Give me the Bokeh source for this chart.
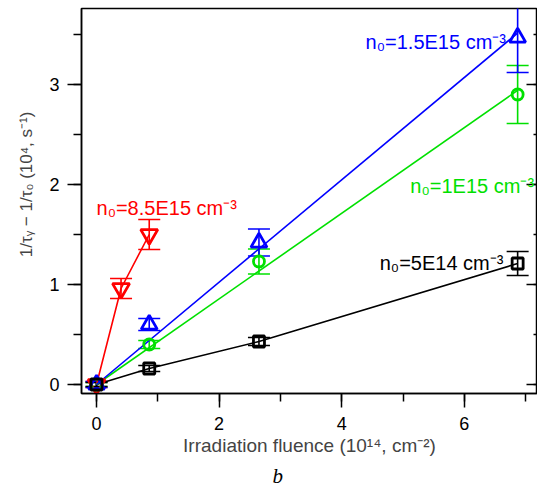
import numpy as np
from bokeh.plotting import figure
from bokeh.models import (ColumnDataSource, Whisker, TeeHead, Label, LinearAxis,
                          SingleIntervalTicker, Range1d, Title)
from bokeh.embed import file_html
from bokeh.resources import INLINE

# ---- data ----
fluence = [0.0, 0.86, 2.65, 6.87]          # 10^14 cm^-2
fluence_red = [0.0, 0.40, 0.86]

y_black = [0.0, 0.16, 0.43, 1.21]
err_black = [0.02, 0.03, 0.04, 0.12]
y_green = [0.0, 0.40, 1.23, 2.90]
err_green = [0.02, 0.04, 0.125, 0.29]
y_blue = [0.0, 0.60, 1.42, 3.47]
err_blue = [0.03, 0.06, 0.135, 0.35]
y_red = [0.0, 0.96, 1.50]
err_red = [0.03, 0.10, 0.15]

series_labels = ["n₀=5E14 cm⁻³", "n₀=1E15 cm⁻³", "n₀=1.5E15 cm⁻³", "n₀=8.5E15 cm⁻³"]
x_axis_title = "Irradiation fluence (10¹⁴, cm⁻²)"
y_axis_title = "1/τᵧ − 1/τ₀ (10⁴, s⁻¹)"
panel_letter = "b"

SANS = "Liberation Sans"
SERIF = "Liberation Serif"
BLACK, GREEN, BLUE, RED = "#000000", "#00e000", "#0000ff", "#ff0000"

X0, X1 = -0.245, 7.194
p = figure(width=537, height=491, x_range=Range1d(X0, X1), y_range=Range1d(-0.09, 3.76),
           output_backend="svg", toolbar_location=None,
           min_border_left=81, min_border_right=0, min_border_top=8, min_border_bottom=98)
p.grid.visible = False
p.outline_line_color = "black"
p.outline_line_width = 1.5
p.background_fill_color = "white"
p.border_fill_color = "white"

# axes
xax = p.xaxis[0]
xax.ticker = SingleIntervalTicker(interval=2, num_minor_ticks=2)
yax = p.yaxis[0]
yax.ticker = SingleIntervalTicker(interval=1, num_minor_ticks=2)
for ax in (xax, yax):
    ax.axis_line_width = 1.5
    ax.major_tick_line_width = 1.5
    ax.minor_tick_line_width = 1.5
    ax.major_tick_in = 0
    ax.minor_tick_in = 0
    ax.major_tick_out = 14
    ax.minor_tick_out = 8
    ax.major_label_text_font = SANS
    ax.major_label_text_font_size = "18px"
    ax.major_label_text_color = "black"
xax.major_label_standoff = 9
yax.major_label_standoff = 8
xax.axis_label = x_axis_title
xax.axis_label_text_font = SANS
xax.axis_label_text_font_size = "19px"
xax.axis_label_text_font_style = "normal"
xax.axis_label_standoff = 2

pad = "\u00a0" * 7
yax.axis_label = pad + y_axis_title
yax.axis_label_text_font = SANS
yax.axis_label_text_font_size = "17px"
yax.axis_label_text_font_style = "normal"
yax.axis_label_standoff = 10

# right-hand tick marks pointing inwards, sitting on the frame edge
rax = LinearAxis(ticker=SingleIntervalTicker(interval=1, num_minor_ticks=2),
                 fixed_location=X1,
                 major_label_overrides={0: "", 1: "", 2: "", 3: ""},
                 major_label_standoff=0,
                 axis_line_color=None, major_tick_in=11, major_tick_out=0,
                 minor_tick_in=4, minor_tick_out=0,
                 major_tick_line_width=1.5, minor_tick_line_width=1.5)
p.add_layout(rax, "right")

# panel letter below the x axis
p.add_layout(Title(text=panel_letter, text_font=SERIF, text_font_style="italic",
                   text_font_size="21px", align="left", offset=191, standoff=6,
                   text_color="black"), "below")

# fit lines (least squares through origin) for blue and green
fx = np.array(fluence)
def fit_line(ys):
    ys = np.array(ys)
    k = float(np.sum(fx * ys) / np.sum(fx * fx))
    xs = [0.0, float(fx.max())]
    return xs, [k * v for v in xs]

bx, by = fit_line(y_blue)
gx, gy = fit_line(y_green)

p.line(fluence, y_black, line_color=BLACK, line_width=1.6)
p.line(fluence_red, y_red, line_color=RED, line_width=1.6)
p.line(gx, gy, line_color=GREEN, line_width=1.6)
p.line(bx, by, line_color=BLUE, line_width=1.6)

def add_series(xs, ys, errs, color, marker, size):
    src = ColumnDataSource(dict(x=xs, y=ys,
                                lo=[a - e for a, e in zip(ys, errs)],
                                hi=[a + e for a, e in zip(ys, errs)]))
    w = Whisker(source=src, base="x", lower="lo", upper="hi", dimension="height",
                line_color=color, line_width=1.6,
                upper_head=TeeHead(size=22, line_color=color, line_width=1.6),
                lower_head=TeeHead(size=22, line_color=color, line_width=1.6))
    p.add_layout(w)
    p.scatter("x", "y", source=src, marker=marker, size=size, fill_color="white",
              fill_alpha=0.0, line_color=color, line_width=2.8)

add_series(fluence_red, y_red, err_red, RED, "inverted_triangle", 17)
add_series(fluence, y_green, err_green, GREEN, "circle", 11)
add_series(fluence, y_blue, err_blue, BLUE, "triangle", 16)
add_series(fluence, y_black, err_black, BLACK, "square", 11)

# series labels
lab_pos = [(4.62, 1.22, BLACK), (5.12, 1.99, GREEN), (4.39, 3.43, BLUE), (0.0, 1.77, RED)]
for txt, (lx, ly, col) in zip(series_labels, lab_pos):
    p.add_layout(Label(x=lx, y=ly, text=txt, text_color=col, text_font=SANS,
                       text_font_size="20px", text_baseline="alphabetic", text_align="left"))

open("out.html", "w").write(file_html(p, INLINE))
